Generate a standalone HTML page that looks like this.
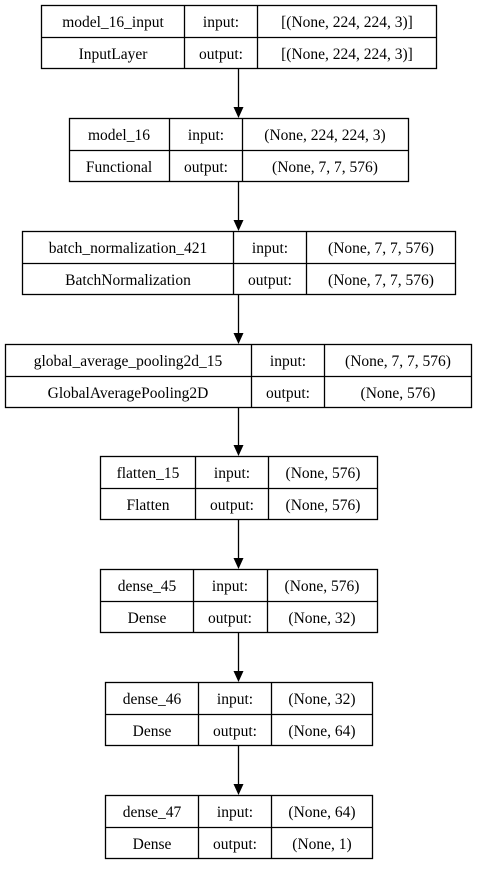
<!DOCTYPE html>
<html><head><meta charset="utf-8"><style>
html,body{margin:0;padding:0;background:#fff;}
svg text{font-family:"Liberation Serif","Times New Roman",Times,serif;font-size:15.5px;fill:#000;text-anchor:middle;}
</style></head><body>
<svg width="478" height="864" xmlns="http://www.w3.org/2000/svg">
<g fill="none" stroke="#000" stroke-width="1.3">
<rect x="41.5" y="5.5" width="395" height="63"/><line x1="41" y1="37.5" x2="436" y2="37.5"/><line x1="184.5" y1="5" x2="184.5" y2="69"/><line x1="257.5" y1="5" x2="257.5" y2="69"/>
<rect x="69.5" y="118.5" width="339" height="63"/><line x1="69" y1="150.5" x2="408" y2="150.5"/><line x1="169.5" y1="118" x2="169.5" y2="182"/><line x1="242.5" y1="118" x2="242.5" y2="182"/>
<rect x="22.5" y="231.5" width="433" height="63"/><line x1="22" y1="263.5" x2="455" y2="263.5"/><line x1="233.5" y1="231" x2="233.5" y2="295"/><line x1="306.5" y1="231" x2="306.5" y2="295"/>
<rect x="5.5" y="344.5" width="466" height="63"/><line x1="5" y1="376.5" x2="472" y2="376.5"/><line x1="251.5" y1="344" x2="251.5" y2="408"/><line x1="324.5" y1="344" x2="324.5" y2="408"/>
<rect x="100.5" y="456.5" width="277" height="63"/><line x1="100" y1="488.5" x2="377" y2="488.5"/><line x1="195.5" y1="456" x2="195.5" y2="520"/><line x1="268.5" y1="456" x2="268.5" y2="520"/>
<rect x="100.5" y="569.5" width="277" height="63"/><line x1="100" y1="601.5" x2="377" y2="601.5"/><line x1="193.5" y1="569" x2="193.5" y2="633"/><line x1="267.5" y1="569" x2="267.5" y2="633"/>
<rect x="105.5" y="682.5" width="267" height="63"/><line x1="105" y1="714.5" x2="372" y2="714.5"/><line x1="198.5" y1="682" x2="198.5" y2="746"/><line x1="271.5" y1="682" x2="271.5" y2="746"/>
<rect x="105.5" y="795.5" width="267" height="63"/><line x1="105" y1="827.5" x2="372" y2="827.5"/><line x1="198.5" y1="795" x2="198.5" y2="859"/><line x1="271.5" y1="795" x2="271.5" y2="859"/>
<line x1="238.5" y1="69" x2="238.5" y2="108"/>
<line x1="238.5" y1="182" x2="238.5" y2="221"/>
<line x1="238.5" y1="295" x2="238.5" y2="334"/>
<line x1="238.5" y1="408" x2="238.5" y2="446"/>
<line x1="238.5" y1="520" x2="238.5" y2="559"/>
<line x1="238.5" y1="633" x2="238.5" y2="672"/>
<line x1="238.5" y1="746" x2="238.5" y2="785"/>
</g>
<g fill="#000">
<polygon points="233.5,107 243.5,107 238.5,118"/>
<polygon points="233.5,220 243.5,220 238.5,231"/>
<polygon points="233.5,333 243.5,333 238.5,344"/>
<polygon points="233.5,445 243.5,445 238.5,456"/>
<polygon points="233.5,558 243.5,558 238.5,569"/>
<polygon points="233.5,671 243.5,671 238.5,682"/>
<polygon points="233.5,784 243.5,784 238.5,795"/>
</g>
<g font-family="Liberation Serif, Times New Roman, serif">
<text x="113" y="27">model_16_input</text><text x="221" y="27">input:</text><text x="347" y="27">[(None, 224, 224, 3)]</text>
<text x="113" y="59">InputLayer</text><text x="221" y="59">output:</text><text x="347" y="59">[(None, 224, 224, 3)]</text>
<text x="119" y="140">model_16</text><text x="206" y="140">input:</text><text x="325" y="140">(None, 224, 224, 3)</text>
<text x="119" y="172">Functional</text><text x="206" y="172">output:</text><text x="325" y="172">(None, 7, 7, 576)</text>
<text x="128" y="253">batch_normalization_421</text><text x="270" y="253">input:</text><text x="381" y="253">(None, 7, 7, 576)</text>
<text x="128" y="285">BatchNormalization</text><text x="270" y="285">output:</text><text x="381" y="285">(None, 7, 7, 576)</text>
<text x="128" y="366">global_average_pooling2d_15</text><text x="288" y="366">input:</text><text x="398" y="366">(None, 7, 7, 576)</text>
<text x="128" y="398">GlobalAveragePooling2D</text><text x="288" y="398">output:</text><text x="398" y="398">(None, 576)</text>
<text x="148" y="478">flatten_15</text><text x="232" y="478">input:</text><text x="323" y="478">(None, 576)</text>
<text x="148" y="510">Flatten</text><text x="232" y="510">output:</text><text x="323" y="510">(None, 576)</text>
<text x="147" y="591">dense_45</text><text x="230" y="591">input:</text><text x="322" y="591">(None, 576)</text>
<text x="147" y="623">Dense</text><text x="230" y="623">output:</text><text x="322" y="623">(None, 32)</text>
<text x="152" y="704">dense_46</text><text x="235" y="704">input:</text><text x="322" y="704">(None, 32)</text>
<text x="152" y="736">Dense</text><text x="235" y="736">output:</text><text x="322" y="736">(None, 64)</text>
<text x="152" y="817">dense_47</text><text x="235" y="817">input:</text><text x="322" y="817">(None, 64)</text>
<text x="152" y="849">Dense</text><text x="235" y="849">output:</text><text x="322" y="849">(None, 1)</text>
</g>
</svg>
</body></html>
